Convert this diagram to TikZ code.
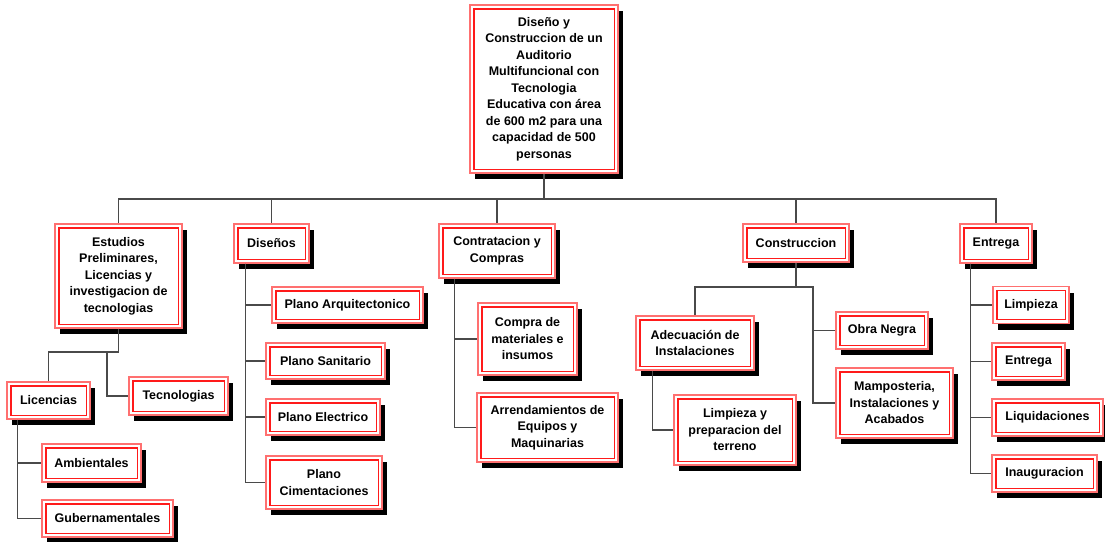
\documentclass[tikz,border=0pt]{standalone}
\usepackage{fontspec}
\setmainfont{Liberation Sans}
\usetikzlibrary{shadows}
\definecolor{outerred}{HTML}{FF7070}
\definecolor{innerred}{HTML}{FF1A1A}
\definecolor{linkgray}{HTML}{4A4A4A}
\tikzset{
  wbs/.style={draw=outerred, line width=1.2pt, fill=white, align=center,
    inner sep=0pt, text=black,
    font=\fontsize{12.5}{16.5}\selectfont\bfseries,
    general shadow={fill=black, shadow xshift=5pt, shadow yshift=-6pt}},
  inner frame/.style={draw=innerred, line width=1.2pt},
  link/.style={draw=linkgray, line width=1.3pt}
}
% box with a second, inset frame: name, centre x, centre y, width, height, text
\newcommand{\wbsbox}[6]{%
  \node[wbs, minimum width=#4pt, minimum height=#5pt] (#1) at (#2,-#3) {#6};
  \draw[inner frame] ([shift={(4.5pt,4.5pt)}]#1.south west) rectangle ([shift={(-4.5pt,-4.5pt)}]#1.north east);}
\begin{document}
\begin{tikzpicture}[x=1pt,y=1pt]
\useasboundingbox (0,0) rectangle (1105,-541);

% top level
\wbsbox{root}{544}{89}{148}{168}{Diseño y\\Construccion de un\\Auditorio\\Multifuncional con\\Tecnologia\\Educativa con área\\de 600 m2 para una\\capacidad de 500\\personas}

% second level
\wbsbox{est}{118.5}{276}{127}{104}{Estudios\\Preliminares,\\Licencias y\\investigacion de\\tecnologias}
\wbsbox{dis}{271.5}{243.5}{75}{39}{Diseños}
\wbsbox{con}{497}{251}{116}{54}{Contratacion y\\Compras}
\wbsbox{cons}{796}{243}{106}{38}{Construccion}
\wbsbox{ent}{996}{243.5}{72}{39}{Entrega}

% Estudios branch
\wbsbox{lic}{48.5}{400.5}{83}{37}{Licencias}
\wbsbox{tec}{178.5}{396}{99}{38}{Tecnologias}
\wbsbox{amb}{91.5}{463}{99}{38}{Ambientales}
\wbsbox{gub}{107.5}{518.5}{131}{37}{Gubernamentales}

% Diseños branch
\wbsbox{pa}{347.5}{305}{151}{36}{Plano Arquitectonico}
\wbsbox{ps}{325.5}{361}{119}{36}{Plano Sanitario}
\wbsbox{pe}{323}{417}{114}{36}{Plano Electrico}
\wbsbox{pc}{324}{482.5}{116}{53}{Plano\\Cimentaciones}

% Contratacion branch
\wbsbox{cm}{527.5}{339}{99}{72}{Compra de\\materiales e\\insumos}
\wbsbox{arr}{547.5}{427.5}{141}{69}{Arrendamientos de\\Equipos y\\Maquinarias}

% Construccion branch
\wbsbox{ade}{695}{343}{118}{54}{Adecuación de\\Instalaciones}
\wbsbox{lim}{735}{430}{122}{70}{Limpieza y\\preparacion del\\terreno}
\wbsbox{obra}{882}{330.5}{92}{37}{Obra Negra}
\wbsbox{mam}{894.5}{403}{117}{70}{Mamposteria,\\Instalaciones y\\Acabados}

% Entrega branch
\wbsbox{e1}{1031}{305}{76}{37}{Limpieza}
\wbsbox{e2}{1028.5}{361.5}{73}{37}{Entrega}
\wbsbox{e3}{1047.5}{417.5}{111}{37}{Liquidaciones}
\wbsbox{e4}{1044.5}{473.5}{105}{37}{Inauguracion}

% connectors
\coordinate (b0) at (544,-199);
\draw[link] (root.south) -- (b0);
\foreach \c in {est,dis,con,cons,ent} \draw[link] (b0) -| (\c.north);

\coordinate (b1) at (118.5,-352);
\coordinate (t1) at (107,-352);
\draw[link] (est.south) -- (b1) -| (lic.north);
\draw[link] (t1) |- (tec.west);
\draw[link] ([xshift=11pt]lic.south west) |- (amb.west);
\draw[link] ([xshift=11pt]lic.south west) |- (gub.west);

\foreach \c in {pa,ps,pe,pc} \draw[link] ([xshift=12pt]dis.south west) |- (\c.west);
\foreach \c in {cm,arr} \draw[link] ([xshift=16pt]con.south west) |- (\c.west);

\coordinate (b3) at (796,-287);
\coordinate (t3) at (813,-287);
\draw[link] (cons.south) -- (b3) -| (ade.north);
\draw[link] (b3) -- (t3) |- (obra.west);
\draw[link] (t3) |- (mam.west);
\draw[link] ([xshift=17pt]ade.south west) |- (lim.west);

\foreach \c in {e1,e2,e3,e4} \draw[link] ([xshift=11pt]ent.south west) |- (\c.west);
\end{tikzpicture}
\end{document}
